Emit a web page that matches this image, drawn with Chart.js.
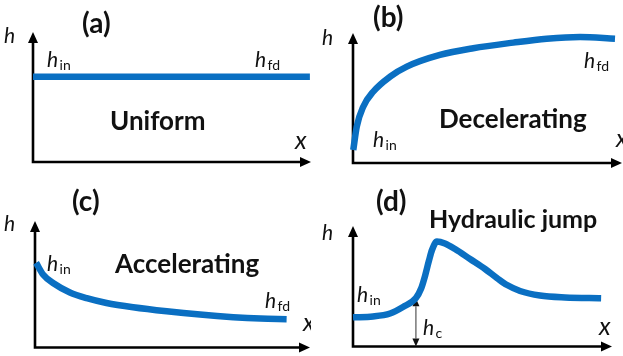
<!DOCTYPE html>
<html>
<head>
<meta charset="utf-8">
<script src="https://cdn.jsdelivr.net/npm/chart.js@4/dist/chart.umd.min.js"></script>
<style>
  html, body { margin: 0; padding: 0; background: #fff; }
  #wrap { position: relative; width: 623px; height: 356px; overflow: hidden; }
  canvas { position: absolute; }
</style>
</head>
<body>
<div id="wrap">
  <canvas id="pa" width="311" height="178" style="left:0;top:0"></canvas>
  <canvas id="pb" width="312" height="178" style="left:311px;top:0"></canvas>
  <canvas id="pc" width="311" height="178" style="left:0;top:178px"></canvas>
  <canvas id="pd" width="312" height="178" style="left:311px;top:178px"></canvas>
</div>
<script>
// Flow-depth profiles h(x); both axes run 0-100 in every panel.

// (a) uniform flow
const uniformX = [0, 99.6];
const uniformH = [65.6, 65.6];

// (b) decelerating flow
const deceleratingX = [0.1, 1.4, 3.8, 7.5, 13.8, 20.0, 32.3, 44.7, 59.6, 72.0, 84.4, 97.4];
const deceleratingH = [10.0, 28.0, 43.3, 54.8, 66.4, 74.1, 83.1, 88.3, 92.6, 95.6, 97.0, 95.6];

// (c) accelerating flow
const acceleratingX = [0.4, 3.0, 6.7, 12.7, 18.8, 26.0, 35.7, 47.9, 60.0, 72.1, 82.0, 91.5];
const acceleratingH = [67.0, 57.5, 50.8, 43.5, 39.0, 35.2, 31.8, 28.6, 26.0, 24.0, 22.9, 22.4];

// (d) hydraulic jump
const jumpX = [0, 7.7, 14.3, 19.3, 24.3, 26.3, 27.8, 29.3, 30.5, 32.4, 35.5, 39.4, 45.2, 51.0, 55.6, 59.5, 64.5, 72.2, 81.9, 95.8];
const jumpH = [24.2, 24.9, 27.4, 32.8, 40.2, 48.1, 58.5, 71.0, 80.1, 87.1, 85.5, 80.9, 72.6, 64.3, 56.8, 51.0, 46.1, 42.3, 40.7, 40.0];

// critical depth marker in (d)
const criticalX = 24.3;
const criticalH = 40.0;

const BLUE = '#0a6fc2';
const FONT = 'Lato, "Open Sans", sans-serif';

// Black axes with filled arrowheads along the left and bottom of the plot area
const arrowAxes = {
  id: 'arrowAxes',
  beforeDatasetsDraw(chart) {
    const { ctx, chartArea: a } = chart;
    const head = 11, half = 5;
    ctx.save();
    ctx.strokeStyle = '#000';
    ctx.fillStyle = '#000';
    ctx.lineWidth = 2.6;
    ctx.lineJoin = 'miter';
    ctx.beginPath();
    ctx.moveTo(a.left, a.top + head - 1);
    ctx.lineTo(a.left, a.bottom);
    ctx.lineTo(a.right - head + 1, a.bottom);
    ctx.stroke();
    ctx.beginPath();
    ctx.moveTo(a.left, a.top);
    ctx.lineTo(a.left - half, a.top + head);
    ctx.lineTo(a.left + half, a.top + head);
    ctx.closePath();
    ctx.fill();
    ctx.beginPath();
    ctx.moveTo(a.right, a.bottom);
    ctx.lineTo(a.right - head, a.bottom - half);
    ctx.lineTo(a.right - head, a.bottom + half);
    ctx.closePath();
    ctx.fill();

    // double-headed depth marker, when configured
    const cd = chart.options.plugins.criticalDepth;
    if (cd && cd.x !== undefined) {
      const xs = chart.scales.x, ys = chart.scales.y;
      const px = xs.getPixelForValue(cd.x);
      const top = ys.getPixelForValue(cd.h);
      const bot = ys.getPixelForValue(0);
      const ah = 8, aw = 3.5;
      ctx.strokeStyle = '#333';
      ctx.fillStyle = '#111';
      ctx.lineWidth = 1;
      ctx.beginPath();
      ctx.moveTo(px, top + ah);
      ctx.lineTo(px, bot - ah);
      ctx.stroke();
      ctx.beginPath();
      ctx.moveTo(px, top);
      ctx.lineTo(px - aw, top + ah);
      ctx.lineTo(px + aw, top + ah);
      ctx.closePath();
      ctx.fill();
      ctx.beginPath();
      ctx.moveTo(px, bot);
      ctx.lineTo(px - aw, bot - ah);
      ctx.lineTo(px + aw, bot - ah);
      ctx.closePath();
      ctx.fill();
    }
    ctx.restore();
  }
};

// Panel captions and symbols (h with upright subscript)
const panelLabels = {
  id: 'panelLabels',
  afterDatasetsDraw(chart) {
    const items = (chart.options.plugins.panelLabels || {}).items || [];
    const { ctx } = chart;
    ctx.save();
    ctx.fillStyle = '#111';
    ctx.textBaseline = 'alphabetic';
    ctx.textAlign = 'left';
    for (const it of items) {
      if (it.sym) {
        ctx.font = 'italic 21px ' + FONT;
        ctx.fillText(it.sym, it.x, it.y);
        if (it.sub) {
          const w = ctx.measureText(it.sym).width;
          ctx.font = '14px ' + FONT;
          ctx.fillText(it.sub, it.x + w + 1.5, it.y + 3);
        }
      } else {
        ctx.font = it.font;
        ctx.fillText(it.text, it.x, it.y);
      }
    }
    ctx.restore();
  }
};

function panel(id, xs, hs, pad, items, critical) {
  const points = xs.map((x, i) => ({ x: x, y: hs[i] }));
  return new Chart(document.getElementById(id), {
    type: 'line',
    data: {
      datasets: [{
        data: points,
        borderColor: BLUE,
        borderWidth: 6.5,
        borderCapStyle: 'butt',
        pointRadius: 0,
        fill: false,
        clip: false,
        cubicInterpolationMode: 'monotone'
      }]
    },
    options: {
      responsive: false,
      animation: false,
      events: [],
      layout: { padding: pad },
      scales: {
        x: { type: 'linear', min: 0, max: 100, display: false },
        y: { type: 'linear', min: 0, max: 100, display: false }
      },
      plugins: {
        legend: { display: false },
        tooltip: { enabled: false },
        panelLabels: { items: items },
        criticalDepth: critical || {}
      }
    },
    plugins: [arrowAxes, panelLabels]
  });
}

const TITLE = 'bold 28px ' + FONT;
const CAPTION = 'bold 26px ' + FONT;
const AXIS = 'italic 25px ' + FONT;

panel('pa', uniformX, uniformH, { left: 33, top: 32, right: 0, bottom: 16 }, [
  { text: '(a)', x: 82, y: 33, font: TITLE },
  { text: 'Uniform', x: 110, y: 130, font: CAPTION },
  { sym: 'h', x: 4, y: 43 },
  { sym: 'h', sub: 'in', x: 47, y: 67 },
  { sym: 'h', sub: 'fd', x: 255, y: 67 },
  { text: 'x', x: 295, y: 149, font: AXIS }
]);

panel('pb', deceleratingX, deceleratingH, { left: 42, top: 33, right: 1, bottom: 15 }, [
  { text: '(b)', x: 62, y: 27, font: TITLE },
  { text: 'Decelerating', x: 128, y: 128, font: CAPTION },
  { sym: 'h', x: 11, y: 45 },
  { sym: 'h', sub: 'in', x: 62, y: 147 },
  { sym: 'h', sub: 'fd', x: 273, y: 68 },
  { text: 'x', x: 305, y: 147, font: AXIS }
]);

panel('pc', acceleratingX, acceleratingH, { left: 35, top: 43, right: 1, bottom: 8.5 }, [
  { text: '(c)', x: 72, y: 33, font: TITLE },
  { text: 'Accelerating', x: 115, y: 95, font: CAPTION },
  { sym: 'h', x: 4, y: 53 },
  { sym: 'h', sub: 'in', x: 47, y: 93 },
  { sym: 'h', sub: 'fd', x: 265, y: 130 },
  { text: 'x', x: 303, y: 153, font: AXIS }
]);

panel('pd', jumpX, jumpH, { left: 42, top: 48, right: 11, bottom: 9.5 }, [
  { text: '(d)', x: 65, y: 33, font: TITLE },
  { text: 'Hydraulic jump', x: 118, y: 50, font: 'bold 25px ' + FONT },
  { sym: 'h', x: 11, y: 62 },
  { sym: 'h', sub: 'in', x: 46, y: 124 },
  { sym: 'h', sub: 'c', x: 112, y: 157 },
  { text: 'x', x: 288, y: 157, font: AXIS }
], { x: criticalX, h: criticalH });
</script>
</body>
</html>
